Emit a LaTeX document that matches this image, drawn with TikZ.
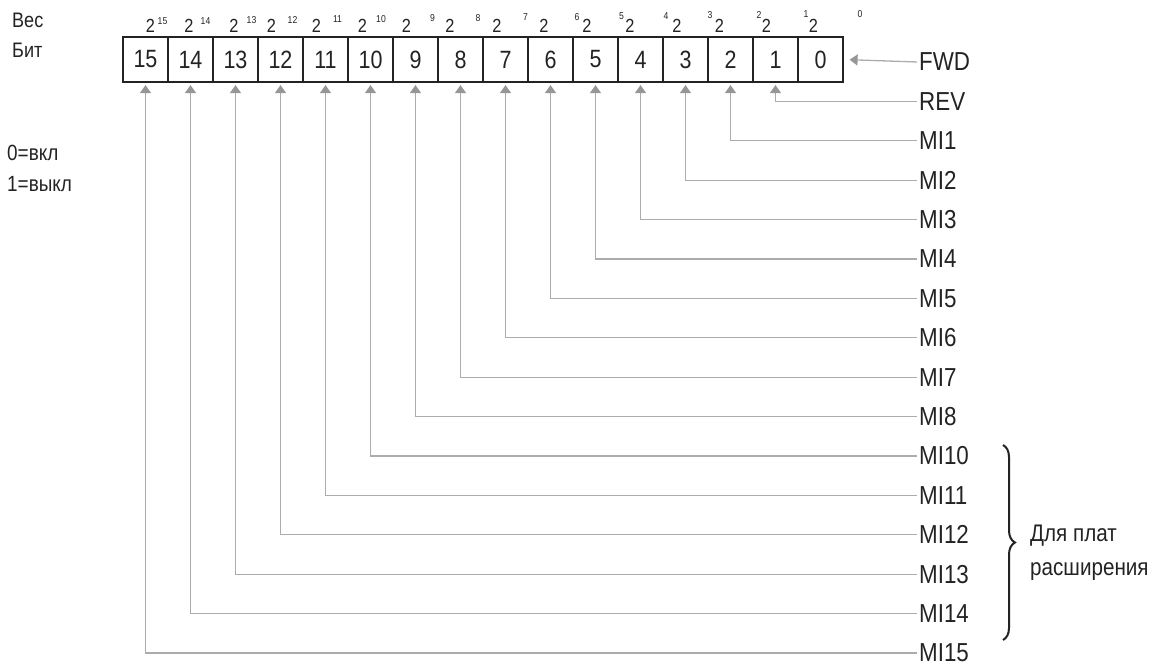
\documentclass[tikz,border=0pt]{standalone}
\usepackage{fontspec}
\setmainfont{Liberation Sans}[FakeStretch=0.86]
\usetikzlibrary{arrows.meta,decorations.pathreplacing}
\definecolor{ink}{RGB}{35, 35, 35}
\definecolor{wire}{RGB}{172, 172, 172}
\definecolor{tip}{RGB}{150, 150, 150}

\begin{document}
\begin{tikzpicture}[x=1pt, y=-1pt,
    cell/.style={draw=ink, line width=1.2pt, minimum width=45pt, minimum height=45pt,
      inner sep=0pt, text=ink, font=\fontsize{25}{25}\selectfont},
    base/.style={anchor=base, inner sep=0pt, text=ink, font=\fontsize{19}{19}\selectfont},
    expo/.style={inner sep=0pt, text=ink, font=\fontsize{10}{10}\selectfont},
    sig/.style={anchor=west, inner sep=2pt, text=ink, font=\fontsize{26}{26}\selectfont},
    note/.style={anchor=west, inner sep=0pt, text=ink, font=\fontsize{21}{21}\selectfont},
    wire/.style={draw=wire, line width=1.3pt, -{Triangle[length=8pt,width=11pt,color=tip]}}]
        \useasboundingbox (0,0) rectangle (1176,668);

        % Header
        \node[note] (ves) at (12,20) {Вес};
        \node[note] (bit) at (12,50) {Бит};
        \node[note, font=\fontsize{22}{22}\selectfont] (on) at (7,153) {0=вкл};
        \node[note, font=\fontsize{22}{22}\selectfont] (off) at (7,184) {1=выкл};

        % Bit cells
        \foreach \b in {0,...,15}
            \node[cell] (b\b) at ({145.5+45*(15-\b)}, 59.5) {\b};

        % Weights (base 2 and exponent, as printed)
        \foreach \b/\tx/\sx in {15/150.5/162.5, 14/189/205.5, 13/234/251.5, 12/271.5/292.5,
                11/316.5/337.5, 10/362.5/381, 9/406.5/432.5, 8/450/478, 7/497/525.5,
                6/544/577, 5/587/621.5, 4/630/666, 3/677/710, 2/719.5/759, 1/766.5/806, 0/813.5/860} {
            \node[base] (w\b) at (\tx, 33) {2};
            \node[expo] (e\b) at (\sx, {14+0.5*\b}) {\b};
        }

        % Signal names
        \foreach \s [count=\i from 0] in {FWD,REV,MI1,MI2,MI3,MI4,MI5,MI6,MI7,MI8,MI10,MI11,MI12,MI13,MI14,MI15}
            \node[sig] (l\i) at (917, {62+39.4*\i}) {\s};

        % Connectors
        \draw[wire, shorten >=6pt] (l0.west) -- (b0.east);
        \foreach \k in {1,...,15}
            \draw[wire, shorten >=2.5pt] (l\k.west) -| (b\k.south);

        % Expansion boards
        \coordinate (top) at (1003,445);
        \coordinate (bot) at (1003,640);
        \draw[ink, line width=2pt, decorate, decoration={brace, amplitude=12pt}] (top) -- (bot);
        \node[note, align=left, font=\fontsize{24}{34}\selectfont] (ext) at (1030,553) {Для плат\\расширения};
    \end{tikzpicture}
\end{document}
